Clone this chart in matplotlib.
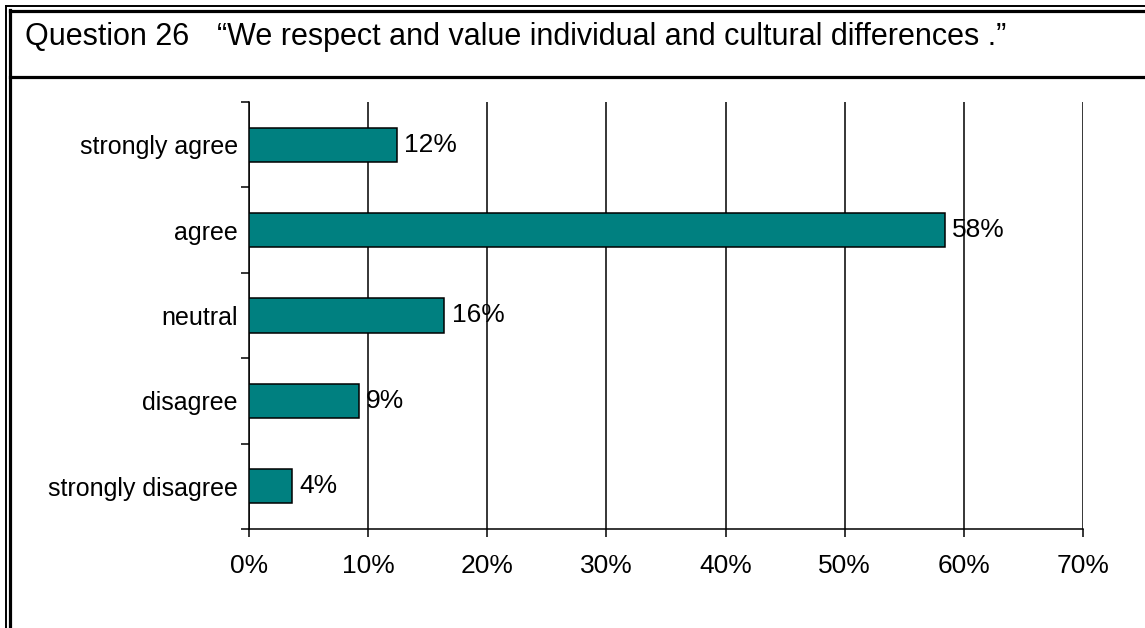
import numpy as np
import matplotlib
matplotlib.use("Agg")
import matplotlib.pyplot as plt
from matplotlib.lines import Line2D
import matplotlib.ticker as mticker

plt.rcParams.update({"font.family": ["Liberation Sans", "DejaVu Sans"]})

CATEGORIES = ["strongly agree", "agree", "neutral", "disagree", "strongly disagree"]
PERCENT = [12.4, 58.4, 16.4, 9.2, 3.6]
X_TICKS = [0, 10, 20, 30, 40, 50, 60, 70]
TITLE_NUM = "Question 26"
TITLE_TEXT = "\u201cWe respect and value individual and cultural differences .\u201d"

W, H = 1145, 628
fig = plt.figure(figsize=(W / 100, H / 100), dpi=100)

def px(x, y):
    return x / W, 1 - y / H

# double frame on the left and top, plus the rule under the title
for xp, lw in [(6, 1.4), (10.5, 2.3)]:
    fig.add_artist(Line2D([xp / W, xp / W], [0, 1 - (xp - 0.5) / H], color="black", lw=lw))
for yp, lw in [(6, 1.4), (10.5, 2.3)]:
    fig.add_artist(Line2D([(yp - 0.5) / W, 1], [1 - yp / H, 1 - yp / H], color="black", lw=lw))
fig.add_artist(Line2D([10 / W, 1], [1 - 76.5 / H, 1 - 76.5 / H], color="black", lw=2.3))

fig.text(*px(25, 37), TITLE_NUM, fontsize=22, va="center", ha="left")
fig.text(*px(217, 37), TITLE_TEXT, fontsize=22, va="center", ha="left")

ax = fig.add_axes([249 / W, 1 - 529 / H, (1083 - 249) / W, (529 - 102) / H])
y = np.arange(len(CATEGORIES))[::-1]
ax.barh(y, PERCENT, height=0.4, color="#008080", edgecolor="black", linewidth=1.1, zorder=3)

for yi, v in zip(y, PERCENT):
    ax.text(v + 0.6, yi, f"{v:.0f}%", va="center", ha="left", fontsize=19, zorder=4)

ax.set_xlim(0, 70)
ax.set_ylim(-0.5, len(CATEGORIES) - 0.5)
ax.set_xticks(X_TICKS)
ax.xaxis.set_major_formatter(mticker.FuncFormatter(lambda v, _: f"{v:.0f}%"))
ax.set_yticks(y)
ax.set_yticklabels(CATEGORIES)
ax.set_yticks(np.arange(-0.5, len(CATEGORIES)), minor=True)
ax.tick_params(axis="y", which="major", length=0, pad=8, labelsize=18)
ax.tick_params(axis="y", which="minor", length=6, width=1.1, direction="out")
ax.tick_params(axis="x", length=6, width=1.1, direction="out", pad=12, labelsize=19)

ax.grid(axis="x", color="black", linewidth=1.1, zorder=0)
for s in ["top", "right"]:
    ax.spines[s].set_visible(False)
for s in ["left", "bottom"]:
    ax.spines[s].set_linewidth(1.1)

fig.savefig("out.png", dpi=100)
